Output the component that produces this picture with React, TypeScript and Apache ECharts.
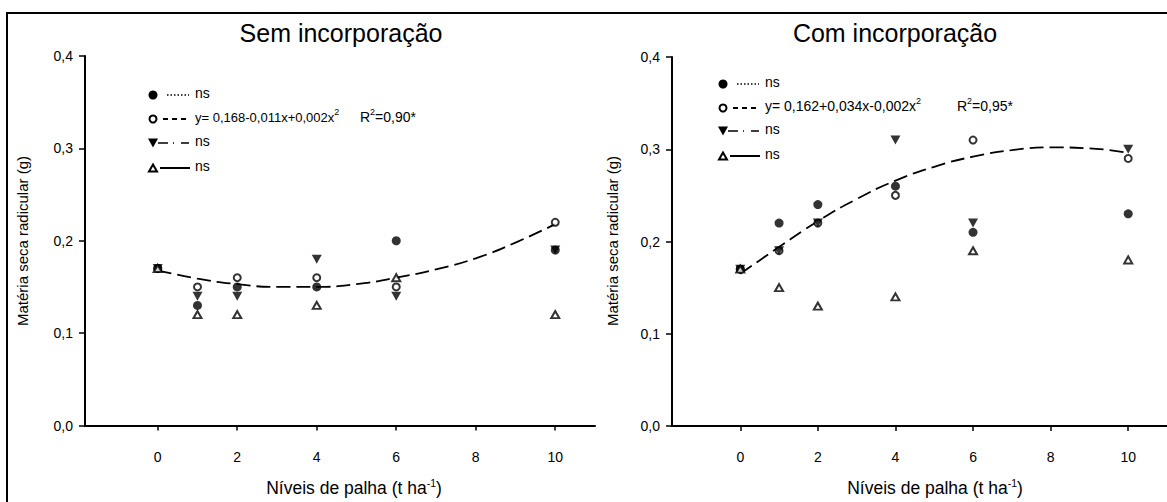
import React, { useEffect, useRef } from "react";
import * as echarts from "echarts";

// ---- data ----
const xLevels = [0, 1, 2, 4, 6, 10];
const xTicks = [0, 2, 4, 6, 8, 10];

// Sem incorporação
const semFilledCircle = [0.17, 0.13, 0.15, 0.15, 0.2, 0.19];
const semOpenCircle = [0.17, 0.15, 0.16, 0.16, 0.15, 0.22];
const semFilledTri = [0.17, 0.14, 0.14, 0.18, 0.14, 0.19];
const semOpenTri = [0.17, 0.12, 0.12, 0.13, 0.16, 0.12];

// Com incorporação
const comFilledCircle = [0.17, 0.22, 0.24, 0.26, 0.21, 0.23];
const comOpenCircle = [0.17, 0.19, 0.22, 0.25, 0.31, 0.29];
const comFilledTri = [0.17, 0.19, 0.22, 0.31, 0.22, 0.3];
const comOpenTri = [0.17, 0.15, 0.13, 0.14, 0.19, 0.18];

// fitted curves
const curveX = [0, 1, 2, 3, 4, 5, 6, 7, 8, 9, 10];
const semCurve = [0.168, 0.159, 0.153, 0.15, 0.15, 0.153, 0.16, 0.169, 0.181, 0.198, 0.218];
const comCurve = [0.165, 0.194, 0.222, 0.246, 0.266, 0.281, 0.292, 0.299, 0.302, 0.301, 0.296];

const titles = ["Sem incorporação", "Com incorporação"];
const yName = "Matéria seca radicular (g)";
const xNameMain = "Níveis de palha (t ha";
const nsLabel = "ns";
const semEq = "y= 0,168-0,011x+0,002x";
const comEq = "y= 0,162+0,034x-0,002x";
const semR2 = "0,90*";
const comR2 = "0,95*";

const FONT = '"Liberation Sans", Arial, sans-serif';

function mkX(gi: number, min: number) {
  return {
    type: "value",
    gridIndex: gi,
    min,
    max: 11,
    axisLine: { show: true, onZero: false, lineStyle: { color: "#000", width: 2 } },
    axisTick: { show: true, customValues: xTicks, length: 5, lineStyle: { color: "#000", width: 1.5 } },
    axisLabel: { customValues: xTicks, margin: 24, color: "#000", fontSize: 14, fontFamily: FONT },
    splitLine: { show: false },
  };
}

function mkY(gi: number) {
  return {
    type: "value",
    gridIndex: gi,
    min: 0,
    max: 0.4,
    interval: 0.1,
    axisLine: { show: true, onZero: false, lineStyle: { color: "#000", width: 2 } },
    axisTick: { show: true, length: 6, lineStyle: { color: "#000", width: 1.5 } },
    axisLabel: {
      margin: 12,
      color: "#000",
      fontSize: 14,
      fontFamily: FONT,
      formatter: (v: number) => v.toFixed(1).replace(".", ","),
    },
    splitLine: { show: false },
  };
}

function pts(vals: number[]) {
  return xLevels.map((x, i) => [x, vals[i]]);
}

function panelSeries(gi: number, fc: number[], oc: number[], ft: number[], ot: number[], curve: number[]) {
  return [
    {
      type: "line",
      xAxisIndex: gi,
      yAxisIndex: gi,
      data: curveX.map((x, i) => [x, curve[i]]),
      smooth: true,
      symbol: "none",
      lineStyle: { color: "#000", width: 1.8, type: [14, 6] },
      z: 1,
    },
    {
      type: "scatter",
      xAxisIndex: gi,
      yAxisIndex: gi,
      data: pts(fc),
      symbol: "circle",
      symbolSize: 9,
      itemStyle: { color: "#000" },
      z: 2,
    },
    {
      type: "scatter",
      xAxisIndex: gi,
      yAxisIndex: gi,
      data: pts(oc),
      symbol: "circle",
      symbolSize: 7,
      itemStyle: { color: "#fff", borderColor: "#000", borderWidth: 2 },
      z: 3,
    },
    {
      type: "scatter",
      xAxisIndex: gi,
      yAxisIndex: gi,
      data: pts(ft),
      symbol: "triangle",
      symbolRotate: 180,
      symbolSize: [10, 9],
      itemStyle: { color: "#000" },
      z: 4,
    },
    {
      type: "scatter",
      xAxisIndex: gi,
      yAxisIndex: gi,
      data: pts(ot),
      symbol: "triangle",
      symbolSize: [8, 7],
      itemStyle: { color: "#fff", borderColor: "#000", borderWidth: 2 },
      z: 5,
    },
  ];
}

function mkRich(size: number) {
  return {
    sup: { fontSize: 9, fontFamily: FONT, fill: "#000", verticalAlign: "top", lineHeight: 8 },
    n: { fontSize: size, fontFamily: FONT, fill: "#000", lineHeight: 20 },
  };
}

function legend(mx: number, rows: number[], eq: string, r2: string, r2x: number, eqSize: number) {
  const els: any[] = [];
  const [r0, r1, r2y, r3] = rows;
  const txt = (x: number, y: number, text: string) => ({
    type: "text",
    x,
    y: y - 2,
    style: { text, fill: "#000", fontSize: 14, fontFamily: FONT, align: "left", verticalAlign: "middle" },
  });
  // filled circle + dotted
  els.push({ type: "circle", shape: { cx: mx, cy: r0, r: 4.5 }, style: { fill: "#000" } });
  els.push({
    type: "line",
    shape: { x1: mx + 14, y1: r0, x2: mx + 36, y2: r0 },
    style: { stroke: "#000", lineWidth: 1.5, lineDash: [1.5, 2] },
  });
  els.push(txt(mx + 42, r0, nsLabel));
  // open circle + dashed + equation
  els.push({ type: "circle", shape: { cx: mx, cy: r1, r: 3.5 }, style: { fill: "#fff", stroke: "#000", lineWidth: 2 } });
  els.push({
    type: "line",
    shape: { x1: mx + 10, y1: r1, x2: mx + 36, y2: r1 },
    style: { stroke: "#000", lineWidth: 2, lineDash: [5, 4] },
  });
  els.push({
    type: "text",
    x: mx + 42,
    y: r1 - 2,
    style: {
      text: "{n|" + eq + "}{sup|2}",
      rich: mkRich(eqSize),
      align: "left",
      verticalAlign: "middle",
    },
  });
  els.push({
    type: "text",
    x: r2x,
    y: r1 - 2,
    style: {
      text: "{n|R}{sup|2}{n|=" + r2 + "}",
      rich: mkRich(14),
      align: "left",
      verticalAlign: "middle",
    },
  });
  // filled down triangle + dash-dot
  els.push({
    type: "polygon",
    shape: { points: [[mx - 5, r2y - 4.5], [mx + 5, r2y - 4.5], [mx, r2y + 4.5]] },
    style: { fill: "#000" },
  });
  els.push({
    type: "line",
    shape: { x1: mx + 5, y1: r2y, x2: mx + 36, y2: r2y },
    style: { stroke: "#000", lineWidth: 1.5, lineDash: [10, 5, 1, 7, 8, 10] },
  });
  els.push(txt(mx + 42, r2y, nsLabel));
  // open triangle + solid
  els.push({
    type: "polygon",
    shape: { points: [[mx - 4, r3 + 3.5], [mx + 4, r3 + 3.5], [mx, r3 - 3.5]] },
    style: { fill: "#fff", stroke: "#000", lineWidth: 2 },
  });
  els.push({
    type: "line",
    shape: { x1: mx + 7, y1: r3, x2: mx + 37, y2: r3 },
    style: { stroke: "#000", lineWidth: 2 },
  });
  els.push(txt(mx + 42, r3, nsLabel));
  return els;
}

export default function App() {
  const ref = useRef<HTMLDivElement>(null);
  useEffect(() => {
    if (!ref.current) return;
    const chart = echarts.init(ref.current, null, { renderer: "svg" });
    const xNameRich = {
      n: { fontSize: 17.5, fontFamily: FONT, fill: "#000", lineHeight: 22 },
      sup: { fontSize: 10.5, fontFamily: FONT, fill: "#000", verticalAlign: "top", lineHeight: 10 },
    };
    const option: any = {
      animation: false,
      backgroundColor: "#fff",
      grid: [
        { left: 85, top: 56, width: 510, height: 369.5 },
        { left: 672, top: 57, width: 500, height: 369 },
      ],
      xAxis: [mkX(0, -1.83), mkX(1, -1.76)],
      yAxis: [mkY(0), mkY(1)],
      series: [
        ...panelSeries(0, semFilledCircle, semOpenCircle, semFilledTri, semOpenTri, semCurve),
        ...panelSeries(1, comFilledCircle, comOpenCircle, comFilledTri, comOpenTri, comCurve),
      ],
      graphic: [
        {
          type: "rect",
          shape: { x: 7, y: 13, width: 1200, height: 600 },
          style: { fill: "none", stroke: "#000", lineWidth: 2 },
          silent: true,
        },
        {
          type: "text",
          x: 341,
          y: 33,
          style: { text: titles[0], fill: "#000", fontSize: 25, fontFamily: FONT, align: "center", verticalAlign: "middle" },
        },
        {
          type: "text",
          x: 895,
          y: 33,
          style: { text: titles[1], fill: "#000", fontSize: 25, fontFamily: FONT, align: "center", verticalAlign: "middle" },
        },
        {
          type: "text",
          x: 22,
          y: 241,
          rotation: Math.PI / 2,
          style: { text: yName, fill: "#000", fontSize: 15, fontFamily: FONT, align: "center", verticalAlign: "middle" },
        },
        {
          type: "text",
          x: 612,
          y: 241,
          rotation: Math.PI / 2,
          style: { text: yName, fill: "#000", fontSize: 15, fontFamily: FONT, align: "center", verticalAlign: "middle" },
        },
        {
          type: "text",
          x: 354,
          y: 488,
          style: {
            text: "{n|" + xNameMain + "}{sup|-1}{n|)}",
            rich: xNameRich,
            align: "center",
            verticalAlign: "middle",
          },
        },
        {
          type: "text",
          x: 935,
          y: 488,
          style: {
            text: "{n|" + xNameMain + "}{sup|-1}{n|)}",
            rich: xNameRich,
            align: "center",
            verticalAlign: "middle",
          },
        },
        ...legend(153, [95, 119, 143, 168], semEq, semR2, 360, 13),
        ...legend(723, [84, 108, 131, 156], comEq, comR2, 957, 14),
      ],
    };
    chart.setOption(option);
    return () => chart.dispose();
  }, []);
  return (
    <div
      ref={ref}
      style={{ position: "absolute", left: 0, top: 0, width: 1167, height: 502, background: "#fff" }}
    />
  );
}
